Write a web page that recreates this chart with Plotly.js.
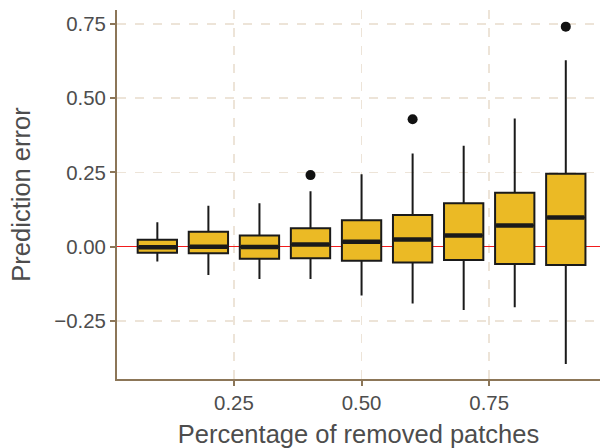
<!DOCTYPE html>
<html>
<head>
<meta charset="utf-8">
<script src="https://cdn.plot.ly/plotly-3.0.1.min.js"></script>
<style>
  html, body { margin: 0; padding: 0; background: #ffffff; overflow: hidden; }
  #chart { width: 600px; height: 448px; }
</style>
</head>
<body>
<div id="chart"></div>
<script>
// Percentage of removed patches (box positions)
const positions = [0.1, 0.2, 0.3, 0.4, 0.5, 0.6, 0.7, 0.8, 0.9];
// Box statistics of prediction error
const lowerWhisker = [-0.050, -0.095, -0.109, -0.109, -0.164, -0.191, -0.213, -0.204, -0.395];
const q1Values     = [-0.020, -0.022, -0.041, -0.039, -0.047, -0.053, -0.045, -0.058, -0.062];
const medianValues = [-0.002,  0.000, -0.001,  0.007,  0.017,  0.024,  0.038,  0.071,  0.098];
const q3Values     = [ 0.023,  0.050,  0.038,  0.062,  0.089,  0.107,  0.146,  0.182,  0.246];
const upperWhisker = [ 0.082,  0.138,  0.146,  0.187,  0.244,  0.314,  0.340,  0.432,  0.628];
// Outliers
const outlierX = [0.4, 0.6, 0.9];
const outlierY = [0.241, 0.429, 0.741];
// Ticks
const xTickVals = [0.25, 0.50, 0.75];
const xTickText = ["0.25", "0.50", "0.75"];
const yTickVals = [-0.25, 0, 0.25, 0.50, 0.75];
const yTickText = ["\u22120.25", "0.00", "0.25", "0.50", "0.75"];

const boxWidth = 0.077;
const fillColor = "#EBBA25";
const textColor = "#4D4D4D";
const axisColor = "#8C7658";
const gridColor = "#EDE4D8";
const fontFamily = "Liberation Sans, Arial, sans-serif";

// median segments built from data
const medX = [], medY = [];
positions.forEach((p, i) => {
  medX.push(p - boxWidth / 2 + 0.002, p + boxWidth / 2 - 0.002, null);
  medY.push(medianValues[i], medianValues[i], null);
});

const traces = [
  {
    type: "box",
    x: positions,
    q1: q1Values,
    median: medianValues,
    q3: q3Values,
    lowerfence: lowerWhisker,
    upperfence: upperWhisker,
    width: boxWidth,
    whiskerwidth: 0,
    fillcolor: fillColor,
    line: { color: "#1A1A1A", width: 2 },
    boxpoints: false,
    hoverinfo: "skip",
    showlegend: false
  },
  {
    type: "scatter",
    mode: "lines",
    x: medX,
    y: medY,
    line: { color: "#1A1A1A", width: 4.5 },
    hoverinfo: "skip",
    showlegend: false,
    connectgaps: false
  },
  {
    type: "scatter",
    mode: "markers",
    x: outlierX,
    y: outlierY,
    marker: { color: "#111111", size: 10 },
    hoverinfo: "skip",
    showlegend: false
  }
];

const layout = {
  width: 600,
  height: 448,
  margin: { l: 117, r: 0, t: 10, b: 69 },
  paper_bgcolor: "#ffffff",
  plot_bgcolor: "#ffffff",
  font: { family: fontFamily, color: textColor },
  showlegend: false,
  hovermode: false,
  xaxis: {
    range: [0.021, 0.967],
    tickvals: xTickVals,
    ticktext: xTickText,
    tickfont: { size: 20.4, color: textColor, family: fontFamily },
    ticks: "outside",
    ticklen: 5,
    tickwidth: 2,
    tickcolor: axisColor,
    showline: true,
    linecolor: axisColor,
    linewidth: 2,
    showgrid: true,
    gridcolor: gridColor,
    gridwidth: 1.5,
    griddash: "dash",
    zeroline: false,
    title: { text: "Percentage of removed patches", font: { size: 25.5, color: textColor, family: fontFamily }, standoff: 12 }
  },
  yaxis: {
    range: [-0.4455, 0.797],
    tickvals: yTickVals,
    ticktext: yTickText,
    tickfont: { size: 20.4, color: textColor, family: fontFamily },
    ticks: "outside",
    ticklen: 5,
    tickwidth: 2,
    tickcolor: axisColor,
    showline: true,
    linecolor: axisColor,
    linewidth: 2,
    showgrid: true,
    gridcolor: gridColor,
    gridwidth: 1.5,
    griddash: "dash",
    zeroline: true,
    zerolinecolor: "#F21B1B",
    zerolinewidth: 1.6,
    title: { text: "Prediction error", font: { size: 25.5, color: textColor, family: fontFamily }, standoff: 16 }
  }
};

Plotly.newPlot("chart", traces, layout, { displayModeBar: false, staticPlot: true });
</script>
</body>
</html>
